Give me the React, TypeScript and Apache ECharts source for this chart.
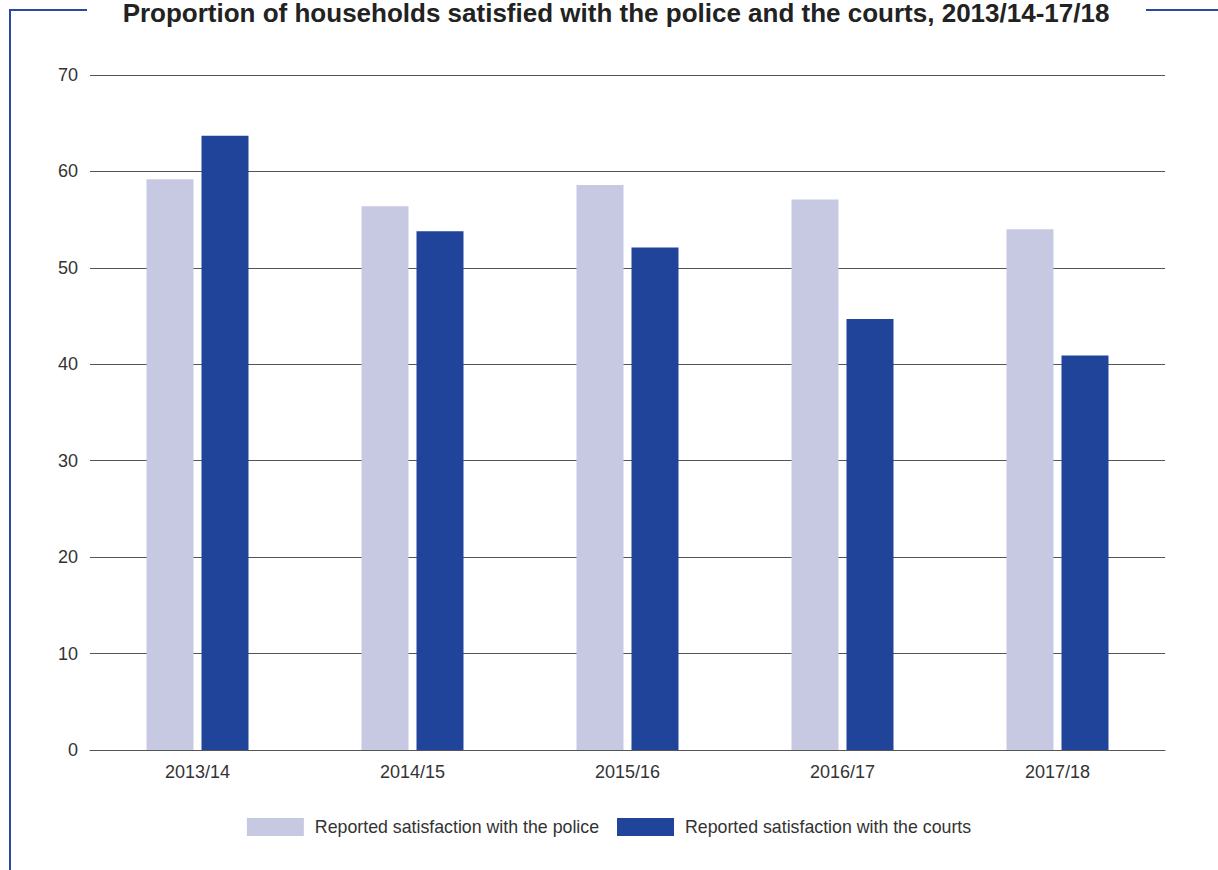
import React, { useEffect, useRef } from "react";
import * as echarts from "echarts";

const categories = ["2013/14", "2014/15", "2015/16", "2016/17", "2017/18"];
const policeValues = [59.2, 56.4, 58.6, 57.1, 54.0];
const courtsValues = [63.7, 53.8, 52.1, 44.7, 40.9];
const seriesNames = ["Reported satisfaction with the police", "Reported satisfaction with the courts"];
const titleText = "Proportion of households satisfied with the police and the courts, 2013/14-17/18";

const FONT = "'Liberation Sans', Arial, Helvetica, sans-serif";
const FRAME = "#2a4aa0";

export default function App() {
  const ref = useRef<HTMLDivElement>(null);
  useEffect(() => {
    if (!ref.current) return;
    const chart = echarts.init(ref.current, null, { renderer: "svg" });
    chart.setOption({
      animation: false,
      backgroundColor: "#ffffff",
      textStyle: { fontFamily: FONT },
      grid: { left: 90, right: 53, top: 75, bottom: 120, containLabel: false },
      legend: {
        top: 813,
        left: "center",
        itemWidth: 57,
        itemHeight: 18,
        itemGap: 18,
        icon: "rect",
        textStyle: { fontFamily: FONT, fontSize: 17.75, color: "#333", padding: [0, 0, 0, 6] },
        data: seriesNames,
      },
      xAxis: {
        type: "category",
        data: categories,
        axisLine: { lineStyle: { color: "#555", width: 1 } },
        axisTick: { show: false },
        axisLabel: { color: "#333", fontSize: 18, fontFamily: FONT, margin: 13 },
      },
      yAxis: {
        type: "value",
        min: 0,
        max: 70,
        interval: 10,
        axisLine: { show: false },
        axisTick: { show: false },
        axisLabel: { color: "#333", fontSize: 18, fontFamily: FONT, margin: 12 },
        splitLine: { lineStyle: { color: "#555", width: 1 } },
      },
      series: [
        {
          name: seriesNames[0],
          type: "bar",
          data: policeValues,
          barWidth: 47,
          barGap: "17%",
          itemStyle: { color: "#c7c9e3" },
        },
        {
          name: seriesNames[1],
          type: "bar",
          data: courtsValues,
          barWidth: 47,
          barGap: "17%",
          itemStyle: { color: "#20449a" },
        },
      ],
      graphic: [
        { type: "line", shape: { x1: 10, y1: 10, x2: 87, y2: 10 }, style: { stroke: FRAME, lineWidth: 2 } },
        { type: "line", shape: { x1: 10, y1: 9, x2: 10, y2: 870 }, style: { stroke: FRAME, lineWidth: 2 } },
        { type: "line", shape: { x1: 1146, y1: 10, x2: 1218, y2: 10 }, style: { stroke: FRAME, lineWidth: 2 } },
        {
          type: "text",
          x: 616,
          y: 13,
          style: {
            text: titleText,
            font: "bold 26px " + FONT,
            fill: "#222",
            textAlign: "center",
            textVerticalAlign: "middle",
          },
        },
      ],
    });
    return () => chart.dispose();
  }, []);
  return (
    <div
      ref={ref}
      style={{ position: "fixed", left: 0, top: 0, width: 1218, height: 870, background: "#fff" }}
    />
  );
}
